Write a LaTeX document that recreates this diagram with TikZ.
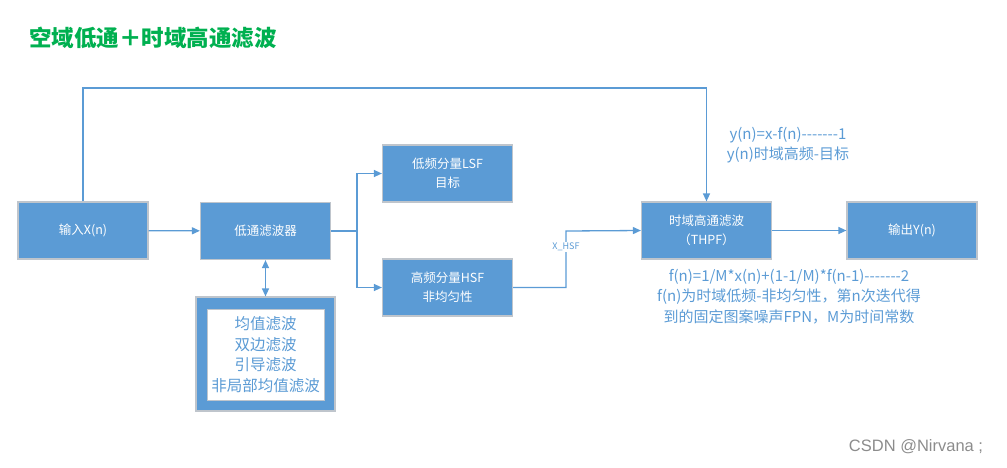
\documentclass[tikz,border=0pt]{standalone}
\usepackage{fontspec}
\newfontfamily\cjk{Noto Sans CJK SC}
\newfontfamily\wm{Liberation Sans}
\usetikzlibrary{arrows.meta}
\definecolor{boxblue}{HTML}{5B9BD5}
\definecolor{boxedge}{HTML}{BFC5CC}
\definecolor{titlegreen}{HTML}{00B050}
\begin{document}
\begin{tikzpicture}[x=1pt,y=-1pt,
  box/.style={draw=boxedge, line width=1.2pt, fill=boxblue, text=white,
    minimum width=130pt, minimum height=57pt, inner sep=0pt, align=center,
    font=\cjk\fontsize{12.5}{19}\selectfont},
  note/.style={text=boxblue, align=center, inner sep=0pt,
    font=\cjk\fontsize{15}{20.5}\selectfont},
  conn/.style={draw=boxblue, line width=1.3pt},
  arr/.style={conn, -{Triangle[length=8pt,width=7pt]}},
  darr/.style={conn, {Triangle[length=8pt,width=7pt]}-{Triangle[length=8pt,width=7pt]}}
]
\useasboundingbox (0,0) rectangle (1007,467);

\node[text=titlegreen, font=\cjk\bfseries\fontsize{22.5}{24}\selectfont, inner sep=0pt] (title) at (153,38) {空域低通＋时域高通滤波};

\node[box] (in) at (83,230.5) {输入X(n)};
\node[box] (lp) at (265.5,231) {低通滤波器};
\node[box] (lsf) at (447.5,173.5) {低频分量LSF\\目标};
\node[box] (hsf) at (447.5,287.5) {高频分量HSF\\非均匀性};
\node[box] (thpf) at (706.5,230.5) {时域高通滤波\\（THPF）};
\node[box] (out) at (912,230.5) {输出Y(n)};

\node[draw=boxedge, line width=1.2pt, fill=boxblue, minimum width=139pt, minimum height=114pt, inner sep=0pt] (flt) at (265.5,354) {};
\node[draw=boxedge, line width=0.8pt, fill=white, minimum width=117pt, minimum height=91pt, inner sep=0pt, text=boxblue, align=center, font=\cjk\fontsize{15.5}{20.7}\selectfont] (fltin) at (265.5,354.5) {均值滤波\\双边滤波\\引导滤波\\非局部均值滤波};

\coordinate (br) at (357,231);
\coordinate (xh) at (566,231);
\coordinate (tl) at (83,88);

\draw[arr] (in) -- (lp);
\draw[darr] (lp.south) -- (flt.north);
\draw[conn] (lp.east) -- (br);
\draw[arr] (br) |- (lsf.west);
\draw[arr] (br) |- (hsf.west);
\draw[arr] (hsf.east) -| (xh) -- (thpf.west);
\node[fill=white, inner sep=1pt, text=boxblue, font=\cjk\fontsize{9}{10}\selectfont] (xl) at (566,247) {X\_HSF};
\draw[arr] (in.north) -- (tl) -| (thpf.north);
\draw[arr] (thpf) -- (out);

\node[note] (eq1) at (788,145) {y(n)=x-f(n)-------1\\y(n)时域高频-目标};
\node[note] (eq2) at (789,296.5) {f(n)=1/M*x(n)+(1-1/M)*f(n-1)-------2\\f(n)为时域低频-非均匀性，第n次迭代得\\到的固定图案噪声FPN，M为时间常数};

\node[text=black!45, font=\wm\fontsize{16.5}{18}\selectfont, inner sep=0pt] (wmk) at (916,447) {CSDN @Nirvana ;};
\end{tikzpicture}
\end{document}
